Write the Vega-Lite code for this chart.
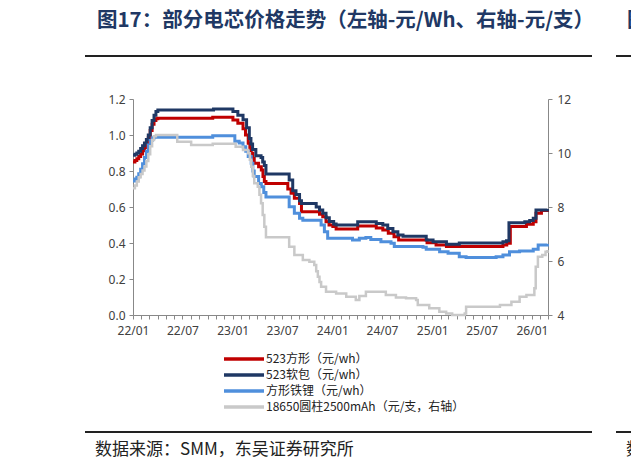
{
  "$schema": "https://vega.github.io/schema/vega-lite/v6.json",
  "width": 415,
  "height": 216,
  "autosize": {"type": "none"},
  "padding": {"left": 133, "top": 99, "right": 83, "bottom": 155},
  "background": "white",
  "config": {"view": {"stroke": null}, "font": "Noto Sans CJK SC"},
  "datasets": {
    "main": [
      {"d":"2022-01-01","s":"523方形（元/wh）","v":0.85},{"d":"2022-01-08","s":"523方形（元/wh）","v":0.858},{"d":"2022-01-15","s":"523方形（元/wh）","v":0.868},{"d":"2022-01-22","s":"523方形（元/wh）","v":0.88},{"d":"2022-01-29","s":"523方形（元/wh）","v":0.895},{"d":"2022-02-05","s":"523方形（元/wh）","v":0.912},{"d":"2022-02-12","s":"523方形（元/wh）","v":0.93},{"d":"2022-02-19","s":"523方形（元/wh）","v":0.955},{"d":"2022-02-26","s":"523方形（元/wh）","v":0.985},{"d":"2022-03-05","s":"523方形（元/wh）","v":1.025},{"d":"2022-03-12","s":"523方形（元/wh）","v":1.06},{"d":"2022-03-19","s":"523方形（元/wh）","v":1.08},{"d":"2022-03-26","s":"523方形（元/wh）","v":1.09},{"d":"2022-04-02","s":"523方形（元/wh）","v":1.093},{"d":"2022-10-20","s":"523方形（元/wh）","v":1.099},{"d":"2023-01-02","s":"523方形（元/wh）","v":1.083},{"d":"2023-01-20","s":"523方形（元/wh）","v":1.065},{"d":"2023-02-08","s":"523方形（元/wh）","v":1.035},{"d":"2023-02-17","s":"523方形（元/wh）","v":1.0},{"d":"2023-02-27","s":"523方形（元/wh）","v":0.954},{"d":"2023-03-05","s":"523方形（元/wh）","v":0.925},{"d":"2023-03-10","s":"523方形（元/wh）","v":0.898},{"d":"2023-03-16","s":"523方形（元/wh）","v":0.87},{"d":"2023-03-21","s":"523方形（元/wh）","v":0.843},{"d":"2023-04-06","s":"523方形（元/wh）","v":0.824},{"d":"2023-04-16","s":"523方形（元/wh）","v":0.806},{"d":"2023-04-22","s":"523方形（元/wh）","v":0.77},{"d":"2023-04-27","s":"523方形（元/wh）","v":0.741},{"d":"2023-05-03","s":"523方形（元/wh）","v":0.73},{"d":"2023-07-22","s":"523方形（元/wh）","v":0.7},{"d":"2023-08-03","s":"523方形（元/wh）","v":0.676},{"d":"2023-08-15","s":"523方形（元/wh）","v":0.648},{"d":"2023-09-03","s":"523方形（元/wh）","v":0.62},{"d":"2023-09-10","s":"523方形（元/wh）","v":0.574},{"d":"2023-11-15","s":"523方形（元/wh）","v":0.56},{"d":"2023-11-27","s":"523方形（元/wh）","v":0.546},{"d":"2023-12-09","s":"523方形（元/wh）","v":0.518},{"d":"2023-12-20","s":"523方形（元/wh）","v":0.5},{"d":"2024-01-03","s":"523方形（元/wh）","v":0.491},{"d":"2024-01-15","s":"523方形（元/wh）","v":0.478},{"d":"2024-04-03","s":"523方形（元/wh）","v":0.494},{"d":"2024-06-10","s":"523方形（元/wh）","v":0.483},{"d":"2024-07-04","s":"523方形（元/wh）","v":0.472},{"d":"2024-07-24","s":"523方形（元/wh）","v":0.454},{"d":"2024-08-14","s":"523方形（元/wh）","v":0.435},{"d":"2024-08-31","s":"523方形（元/wh）","v":0.417},{"d":"2024-12-13","s":"523方形（元/wh）","v":0.402},{"d":"2025-01-15","s":"523方形（元/wh）","v":0.389},{"d":"2025-02-22","s":"523方形（元/wh）","v":0.38},{"d":"2025-09-17","s":"523方形（元/wh）","v":0.389},{"d":"2025-10-01","s":"523方形（元/wh）","v":0.398},{"d":"2025-10-14","s":"523方形（元/wh）","v":0.491},{"d":"2025-12-12","s":"523方形（元/wh）","v":0.504},{"d":"2026-01-06","s":"523方形（元/wh）","v":0.518},{"d":"2026-01-16","s":"523方形（元/wh）","v":0.565},{"d":"2026-02-05","s":"523方形（元/wh）","v":0.58},{"d":"2026-02-27","s":"523方形（元/wh）","v":0.583},
      {"d":"2022-01-01","s":"523软包（元/wh）","v":0.887},{"d":"2022-01-08","s":"523软包（元/wh）","v":0.893},{"d":"2022-01-15","s":"523软包（元/wh）","v":0.9},{"d":"2022-01-22","s":"523软包（元/wh）","v":0.91},{"d":"2022-01-29","s":"523软包（元/wh）","v":0.925},{"d":"2022-02-05","s":"523软包（元/wh）","v":0.94},{"d":"2022-02-12","s":"523软包（元/wh）","v":0.955},{"d":"2022-02-19","s":"523软包（元/wh）","v":0.975},{"d":"2022-02-26","s":"523软包（元/wh）","v":1.0},{"d":"2022-03-05","s":"523软包（元/wh）","v":1.04},{"d":"2022-03-12","s":"523软包（元/wh）","v":1.08},{"d":"2022-03-19","s":"523软包（元/wh）","v":1.11},{"d":"2022-03-26","s":"523软包（元/wh）","v":1.13},{"d":"2022-04-02","s":"523软包（元/wh）","v":1.139},{"d":"2022-10-23","s":"523软包（元/wh）","v":1.144},{"d":"2023-01-02","s":"523软包（元/wh）","v":1.13},{"d":"2023-01-20","s":"523软包（元/wh）","v":1.11},{"d":"2023-02-08","s":"523软包（元/wh）","v":1.085},{"d":"2023-02-21","s":"523软包（元/wh）","v":1.04},{"d":"2023-03-03","s":"523软包（元/wh）","v":0.98},{"d":"2023-03-09","s":"523软包（元/wh）","v":0.95},{"d":"2023-03-15","s":"523软包（元/wh）","v":0.92},{"d":"2023-03-27","s":"523软包（元/wh）","v":0.885},{"d":"2023-04-15","s":"523软包（元/wh）","v":0.875},{"d":"2023-04-21","s":"523软包（元/wh）","v":0.85},{"d":"2023-04-27","s":"523软包（元/wh）","v":0.83},{"d":"2023-05-03","s":"523软包（元/wh）","v":0.783},{"d":"2023-07-27","s":"523软包（元/wh）","v":0.75},{"d":"2023-08-09","s":"523软包（元/wh）","v":0.69},{"d":"2023-08-21","s":"523软包（元/wh）","v":0.67},{"d":"2023-09-03","s":"523软包（元/wh）","v":0.635},{"d":"2023-09-10","s":"523软包（元/wh）","v":0.62},{"d":"2023-11-03","s":"523软包（元/wh）","v":0.6},{"d":"2023-11-15","s":"523软包（元/wh）","v":0.583},{"d":"2023-11-27","s":"523软包（元/wh）","v":0.565},{"d":"2023-12-09","s":"523软包（元/wh）","v":0.54},{"d":"2023-12-21","s":"523软包（元/wh）","v":0.52},{"d":"2024-01-06","s":"523软包（元/wh）","v":0.505},{"d":"2024-01-15","s":"523软包（元/wh）","v":0.5},{"d":"2024-04-03","s":"523软包（元/wh）","v":0.518},{"d":"2024-06-10","s":"523软包（元/wh）","v":0.509},{"d":"2024-07-04","s":"523软包（元/wh）","v":0.5},{"d":"2024-07-22","s":"523软包（元/wh）","v":0.481},{"d":"2024-08-10","s":"523软包（元/wh）","v":0.463},{"d":"2024-08-28","s":"523软包（元/wh）","v":0.444},{"d":"2024-09-16","s":"523软包（元/wh）","v":0.437},{"d":"2024-12-10","s":"523软包（元/wh）","v":0.417},{"d":"2025-01-04","s":"523软包（元/wh）","v":0.407},{"d":"2025-02-22","s":"523软包（元/wh）","v":0.393},{"d":"2025-04-10","s":"523软包（元/wh）","v":0.4},{"d":"2025-09-17","s":"523软包（元/wh）","v":0.407},{"d":"2025-09-30","s":"523软包（元/wh）","v":0.413},{"d":"2025-10-09","s":"523软包（元/wh）","v":0.512},{"d":"2025-12-06","s":"523软包（元/wh）","v":0.518},{"d":"2025-12-24","s":"523软包（元/wh）","v":0.525},{"d":"2026-01-06","s":"523软包（元/wh）","v":0.537},{"d":"2026-01-16","s":"523软包（元/wh）","v":0.583},{"d":"2026-02-27","s":"523软包（元/wh）","v":0.589},
      {"d":"2022-01-01","s":"方形铁锂（元/wh）","v":0.745},{"d":"2022-01-08","s":"方形铁锂（元/wh）","v":0.755},{"d":"2022-01-15","s":"方形铁锂（元/wh）","v":0.765},{"d":"2022-01-22","s":"方形铁锂（元/wh）","v":0.785},{"d":"2022-01-29","s":"方形铁锂（元/wh）","v":0.81},{"d":"2022-02-05","s":"方形铁锂（元/wh）","v":0.84},{"d":"2022-02-12","s":"方形铁锂（元/wh）","v":0.875},{"d":"2022-02-19","s":"方形铁锂（元/wh）","v":0.91},{"d":"2022-02-26","s":"方形铁锂（元/wh）","v":0.945},{"d":"2022-03-05","s":"方形铁锂（元/wh）","v":0.97},{"d":"2022-03-12","s":"方形铁锂（元/wh）","v":0.983},{"d":"2022-03-19","s":"方形铁锂（元/wh）","v":0.987},{"d":"2022-10-20","s":"方形铁锂（元/wh）","v":0.996},{"d":"2023-01-09","s":"方形铁锂（元/wh）","v":0.965},{"d":"2023-01-25","s":"方形铁锂（元/wh）","v":0.955},{"d":"2023-02-08","s":"方形铁锂（元/wh）","v":0.935},{"d":"2023-02-18","s":"方形铁锂（元/wh）","v":0.91},{"d":"2023-02-27","s":"方形铁锂（元/wh）","v":0.88},{"d":"2023-03-10","s":"方形铁锂（元/wh）","v":0.843},{"d":"2023-03-16","s":"方形铁锂（元/wh）","v":0.8},{"d":"2023-03-21","s":"方形铁锂（元/wh）","v":0.77},{"d":"2023-04-06","s":"方形铁锂（元/wh）","v":0.731},{"d":"2023-04-16","s":"方形铁锂（元/wh）","v":0.713},{"d":"2023-04-25","s":"方形铁锂（元/wh）","v":0.68},{"d":"2023-05-03","s":"方形铁锂（元/wh）","v":0.655},{"d":"2023-07-27","s":"方形铁锂（元/wh）","v":0.602},{"d":"2023-08-15","s":"方形铁锂（元/wh）","v":0.565},{"d":"2023-09-03","s":"方形铁锂（元/wh）","v":0.537},{"d":"2023-09-15","s":"方形铁锂（元/wh）","v":0.526},{"d":"2023-11-21","s":"方形铁锂（元/wh）","v":0.5},{"d":"2023-12-03","s":"方形铁锂（元/wh）","v":0.463},{"d":"2023-12-15","s":"方形铁锂（元/wh）","v":0.426},{"d":"2024-03-15","s":"方形铁锂（元/wh）","v":0.417},{"d":"2024-04-09","s":"方形铁锂（元/wh）","v":0.426},{"d":"2024-05-03","s":"方形铁锂（元/wh）","v":0.43},{"d":"2024-05-21","s":"方形铁锂（元/wh）","v":0.42},{"d":"2024-06-27","s":"方形铁锂（元/wh）","v":0.407},{"d":"2024-08-03","s":"方形铁锂（元/wh）","v":0.398},{"d":"2024-08-15","s":"方形铁锂（元/wh）","v":0.38},{"d":"2024-11-28","s":"方形铁锂（元/wh）","v":0.376},{"d":"2024-12-10","s":"方形铁锂（元/wh）","v":0.365},{"d":"2025-01-28","s":"方形铁锂（元/wh）","v":0.352},{"d":"2025-02-28","s":"方形铁锂（元/wh）","v":0.343},{"d":"2025-04-10","s":"方形铁锂（元/wh）","v":0.324},{"d":"2025-05-05","s":"方形铁锂（元/wh）","v":0.319},{"d":"2025-08-23","s":"方形铁锂（元/wh）","v":0.324},{"d":"2025-09-17","s":"方形铁锂（元/wh）","v":0.333},{"d":"2025-10-11","s":"方形铁锂（元/wh）","v":0.352},{"d":"2025-11-17","s":"方形铁锂（元/wh）","v":0.356},{"d":"2026-01-06","s":"方形铁锂（元/wh）","v":0.365},{"d":"2026-01-24","s":"方形铁锂（元/wh）","v":0.389},{"d":"2026-02-27","s":"方形铁锂（元/wh）","v":0.394}
    ],
    "cyl": [
      {"d":"2022-01-01","s":"18650圆柱2500mAh（元/支，右轴）","v":8.69},{"d":"2022-01-08","s":"18650圆柱2500mAh（元/支，右轴）","v":8.8},{"d":"2022-01-15","s":"18650圆柱2500mAh（元/支，右轴）","v":8.94},{"d":"2022-01-22","s":"18650圆柱2500mAh（元/支，右轴）","v":9.1},{"d":"2022-01-29","s":"18650圆柱2500mAh（元/支，右轴）","v":9.22},{"d":"2022-02-05","s":"18650圆柱2500mAh（元/支，右轴）","v":9.35},{"d":"2022-02-12","s":"18650圆柱2500mAh（元/支，右轴）","v":9.5},{"d":"2022-02-19","s":"18650圆柱2500mAh（元/支，右轴）","v":9.7},{"d":"2022-02-26","s":"18650圆柱2500mAh（元/支，右轴）","v":9.95},{"d":"2022-03-05","s":"18650圆柱2500mAh（元/支，右轴）","v":10.25},{"d":"2022-03-12","s":"18650圆柱2500mAh（元/支，右轴）","v":10.48},{"d":"2022-03-19","s":"18650圆柱2500mAh（元/支，右轴）","v":10.62},{"d":"2022-03-26","s":"18650圆柱2500mAh（元/支，右轴）","v":10.67},{"d":"2022-06-12","s":"18650圆柱2500mAh（元/支，右轴）","v":10.42},{"d":"2022-08-02","s":"18650圆柱2500mAh（元/支，右轴）","v":10.3},{"d":"2022-10-20","s":"18650圆柱2500mAh（元/支，右轴）","v":10.34},{"d":"2023-01-12","s":"18650圆柱2500mAh（元/支，右轴）","v":10.23},{"d":"2023-02-08","s":"18650圆柱2500mAh（元/支，右轴）","v":10.11},{"d":"2023-02-27","s":"18650圆柱2500mAh（元/支，右轴）","v":9.99},{"d":"2023-03-05","s":"18650圆柱2500mAh（元/支，右轴）","v":9.75},{"d":"2023-03-10","s":"18650圆柱2500mAh（元/支，右轴）","v":9.49},{"d":"2023-03-16","s":"18650圆柱2500mAh（元/支，右轴）","v":9.15},{"d":"2023-03-21","s":"18650圆柱2500mAh（元/支，右轴）","v":8.88},{"d":"2023-04-03","s":"18650圆柱2500mAh（元/支，右轴）","v":8.75},{"d":"2023-04-09","s":"18650圆柱2500mAh（元/支，右轴）","v":8.45},{"d":"2023-04-15","s":"18650圆柱2500mAh（元/支，右轴）","v":8.14},{"d":"2023-04-21","s":"18650圆柱2500mAh（元/支，右轴）","v":7.7},{"d":"2023-04-27","s":"18650圆柱2500mAh（元/支，右轴）","v":7.27},{"d":"2023-05-03","s":"18650圆柱2500mAh（元/支，右轴）","v":6.88},{"d":"2023-07-27","s":"18650圆柱2500mAh（元/支，右轴）","v":6.53},{"d":"2023-08-15","s":"18650圆柱2500mAh（元/支，右轴）","v":6.22},{"d":"2023-09-15","s":"18650圆柱2500mAh（元/支，右轴）","v":6.04},{"d":"2023-10-09","s":"18650圆柱2500mAh（元/支，右轴）","v":5.97},{"d":"2023-10-27","s":"18650圆柱2500mAh（元/支，右轴）","v":5.85},{"d":"2023-11-03","s":"18650圆柱2500mAh（元/支，右轴）","v":5.62},{"d":"2023-11-09","s":"18650圆柱2500mAh（元/支，右轴）","v":5.42},{"d":"2023-11-15","s":"18650圆柱2500mAh（元/支，右轴）","v":5.22},{"d":"2023-11-21","s":"18650圆柱2500mAh（元/支，右轴）","v":5.05},{"d":"2023-12-09","s":"18650圆柱2500mAh（元/支，右轴）","v":4.86},{"d":"2024-01-15","s":"18650圆柱2500mAh（元/支，右轴）","v":4.8},{"d":"2024-02-21","s":"18650圆柱2500mAh（元/支，右轴）","v":4.68},{"d":"2024-03-27","s":"18650圆柱2500mAh（元/支，右轴）","v":4.56},{"d":"2024-04-09","s":"18650圆柱2500mAh（元/支，右轴）","v":4.7},{"d":"2024-05-03","s":"18650圆柱2500mAh（元/支，右轴）","v":4.86},{"d":"2024-06-21","s":"18650圆柱2500mAh（元/支，右轴）","v":4.86},{"d":"2024-07-15","s":"18650圆柱2500mAh（元/支，右轴）","v":4.74},{"d":"2024-08-21","s":"18650圆柱2500mAh（元/支，右轴）","v":4.65},{"d":"2024-09-27","s":"18650圆柱2500mAh（元/支，右轴）","v":4.62},{"d":"2024-11-03","s":"18650圆柱2500mAh（元/支，右轴）","v":4.56},{"d":"2024-11-09","s":"18650圆柱2500mAh（元/支，右轴）","v":4.37},{"d":"2024-12-21","s":"18650圆柱2500mAh（元/支，右轴）","v":4.25},{"d":"2025-01-27","s":"18650圆柱2500mAh（元/支，右轴）","v":4.12},{"d":"2025-02-21","s":"18650圆柱2500mAh（元/支，右轴）","v":4.06},{"d":"2025-03-15","s":"18650圆柱2500mAh（元/支，右轴）","v":4.0},{"d":"2025-04-30","s":"18650圆柱2500mAh（元/支，右轴）","v":4.06},{"d":"2025-05-05","s":"18650圆柱2500mAh（元/支，右轴）","v":4.31},{"d":"2025-08-22","s":"18650圆柱2500mAh（元/支，右轴）","v":4.31},{"d":"2025-09-06","s":"18650圆柱2500mAh（元/支，右轴）","v":4.37},{"d":"2025-10-18","s":"18650圆柱2500mAh（元/支，右轴）","v":4.49},{"d":"2025-11-17","s":"18650圆柱2500mAh（元/支，右轴）","v":4.68},{"d":"2025-12-12","s":"18650圆柱2500mAh（元/支，右轴）","v":4.74},{"d":"2026-01-10","s":"18650圆柱2500mAh（元/支，右轴）","v":4.99},{"d":"2026-01-15","s":"18650圆柱2500mAh（元/支，右轴）","v":5.79},{"d":"2026-01-23","s":"18650圆柱2500mAh（元/支，右轴）","v":6.16},{"d":"2026-02-08","s":"18650圆柱2500mAh（元/支，右轴）","v":6.22},{"d":"2026-02-20","s":"18650圆柱2500mAh（元/支，右轴）","v":6.34},{"d":"2026-02-27","s":"18650圆柱2500mAh（元/支，右轴）","v":6.41}
    ]
  },
  "layer": [
    {
      "data": {"name": "main"},
      "mark": {"type": "line", "interpolate": "step-after", "strokeWidth": 3},
      "encoding": {
        "x": {
          "field": "d", "type": "temporal",
          "scale": {"domain": [{"year": 2022, "month": 1, "date": 1}, {"year": 2026, "month": 3, "date": 1}]},
          "axis": {
            "title": null, "orient": "bottom", "tickCount": {"interval": "month", "step": 1}, "labels": false,
            "grid": false, "domainColor": "#888888", "tickColor": "#888888", "tickSize": 4
          }
        },
        "y": {
          "field": "v", "type": "quantitative",
          "scale": {"domain": [0, 1.2], "nice": false, "zero": false},
          "axis": {
            "title": null, "orient": "left", "values": [0, 0.2, 0.4, 0.6, 0.8, 1.0, 1.2], "format": ".1f",
            "grid": false, "domainColor": "#888888", "tickColor": "#888888", "tickSize": 4,
            "labelColor": "#404040", "labelFont": "Noto Sans", "labelFontSize": 12, "labelPadding": 4
          }
        },
        "color": {
          "field": "s", "type": "nominal",
          "scale": {"domain": ["523方形（元/wh）", "523软包（元/wh）", "方形铁锂（元/wh）", "18650圆柱2500mAh（元/支，右轴）"], "range": ["#C00000", "#1F3864", "#4F8FDC", "#C9C9C9"]},
          "legend": {
            "title": null, "orient": "none", "legendX": 104, "legendY": 253, "direction": "vertical", "padding": 0,
            "symbolType": "M-4,0H4", "symbolSize": 100, "symbolStrokeWidth": 3.5, "labelLimit": 400,
            "labelFont": "Noto Sans CJK SC", "labelFontSize": 12, "labelColor": "#222222", "labelOffset": 15, "rowPadding": 2
          }
        }
      }
    },
    {
      "data": {"name": "cyl"},
      "mark": {"type": "line", "interpolate": "step-after", "strokeWidth": 2.5},
      "encoding": {
        "x": {
          "field": "d", "type": "temporal",
          "axis": {
            "title": null, "orient": "bottom", "tickCount": {"interval": "month", "step": 6}, "format": "%y/%m",
            "ticks": false, "tickSize": 0, "domain": false, "grid": false,
            "labelOverlap": false, "labelFlush": false, "labelBound": false,
            "labelColor": "#404040", "labelFont": "Noto Sans", "labelFontSize": 12, "labelPadding": 10
          }
        },
        "y": {
          "field": "v", "type": "quantitative",
          "scale": {"domain": [4, 12], "nice": false, "zero": false},
          "axis": {
            "title": null, "orient": "right", "values": [4, 6, 8, 10, 12],
            "grid": false, "domainColor": "#888888", "tickColor": "#888888", "tickSize": 4,
            "labelColor": "#404040", "labelFont": "Noto Sans", "labelFontSize": 12, "labelPadding": 5
          }
        },
        "color": {"field": "s", "type": "nominal"}
      }
    },
    {
      "data": {"values": [{}]},
      "mark": {"type": "text", "text": "图17：部分电芯价格走势（左轴-元/Wh、右轴-元/支）", "font": "Noto Sans CJK SC", "fontSize": 20.5, "fontWeight": "bold", "color": "#203864", "align": "left", "baseline": "middle"},
      "encoding": {"x": {"value": -36}, "y": {"value": -78}}
    },
    {
      "data": {"values": [{}]},
      "mark": {"type": "text", "text": "图18", "font": "Noto Sans CJK SC", "fontSize": 20.5, "fontWeight": "bold", "color": "#203864", "align": "left", "baseline": "middle"},
      "encoding": {"x": {"value": 494}, "y": {"value": -78}}
    },
    {
      "data": {"values": [{}]},
      "mark": {"type": "text", "text": "数据来源：SMM，东吴证券研究所", "font": "Noto Sans CJK SC", "fontSize": 17, "color": "#222222", "align": "left", "baseline": "middle"},
      "encoding": {"x": {"value": -38}, "y": {"value": 351}}
    },
    {
      "data": {"values": [{}]},
      "mark": {"type": "text", "text": "数据来源", "font": "Noto Sans CJK SC", "fontSize": 17, "color": "#222222", "align": "left", "baseline": "middle"},
      "encoding": {"x": {"value": 493}, "y": {"value": 351}}
    },
    {
      "data": {"values": [{}]},
      "mark": {"type": "rule", "color": "#222222", "strokeWidth": 2},
      "encoding": {"x": {"value": -48}, "x2": {"value": 459}, "y": {"value": -43}}
    },
    {
      "data": {"values": [{}]},
      "mark": {"type": "rule", "color": "#222222", "strokeWidth": 2},
      "encoding": {"x": {"value": 483}, "x2": {"value": 500}, "y": {"value": -43}}
    },
    {
      "data": {"values": [{}]},
      "mark": {"type": "rule", "color": "#222222", "strokeWidth": 2},
      "encoding": {"x": {"value": -48}, "x2": {"value": 459}, "y": {"value": 333}}
    },
    {
      "data": {"values": [{}]},
      "mark": {"type": "rule", "color": "#222222", "strokeWidth": 2},
      "encoding": {"x": {"value": 483}, "x2": {"value": 500}, "y": {"value": 333}}
    }
  ],
  "resolve": {"scale": {"y": "independent"}, "axis": {"x": "independent"}}
}
